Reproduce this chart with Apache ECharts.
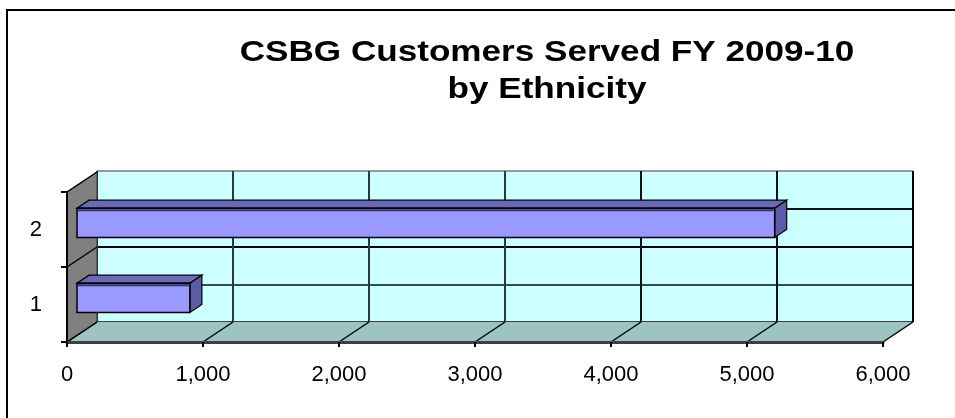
<!DOCTYPE html>
<html><head><meta charset="utf-8">
<script src="https://cdn.jsdelivr.net/npm/echarts@6/dist/echarts.min.js"></script>
<style>html,body{margin:0;padding:0;background:#fff}#c{width:955px;height:418px}</style>
</head><body><div id="c"></div>
<script>
// ---- data ----
const titleText = 'CSBG Customers Served FY 2009-10\nby Ethnicity';
const categories = ['1', '2'];
const values = [830, 5130];
const xTickLabels = ['0', '1,000', '2,000', '3,000', '4,000', '5,000', '6,000'];
const xMin = 0, xMax = 6000, xStep = 1000;
const xTickValues = [0, 1000, 2000, 3000, 4000, 5000, 6000];

// ---- 3D look (styling constants) ----
const DX = 30, DY = -20;           // depth offset of back wall
const BAR_FRONT = 10 / 30, BAR_BACK = 22 / 30, BAR_FRAC = 0.39;
const FONT = '"Liberation Sans", Arial, sans-serif';

const chart = echarts.init(document.getElementById('c'), null, {renderer: 'canvas'});

function frameItem(params, api) {
  const cs = params.coordSys;
  const left = cs.x, top = cs.y, bottom = cs.y + cs.height, right = cs.x + cs.width;
  const band = api.size([0, 1])[1];
  const kids = [];
  // floor
  kids.push({type: 'polygon', shape: {points: [[left, bottom], [right, bottom], [right + DX, bottom + DY], [left + DX, bottom + DY]]},
    style: {fill: '#9cc4c2', stroke: null}});
  xTickValues.forEach(v => {
    const x = api.coord([v, 0])[0];
    kids.push({type: 'line', shape: {x1: x, y1: bottom, x2: x + DX, y2: bottom + DY}, style: {stroke: '#000', lineWidth: 1.5}});
  });
  // side wall
  kids.push({type: 'polygon', shape: {points: [[left, top], [left + DX, top + DY], [left + DX, bottom + DY], [left, bottom]]},
    style: {fill: '#808080', stroke: '#333', lineWidth: 1}});
  const bounds = [];
  categories.forEach((c, i) => { const y = api.coord([0, i])[1]; bounds.push(y + band / 2, y - band / 2); });
  Array.from(new Set(bounds.map(b => Math.round(b * 10) / 10))).forEach(y => {
    kids.push({type: 'line', shape: {x1: left, y1: y, x2: left + DX, y2: y + DY}, style: {stroke: '#000', lineWidth: 1.5}});
  });
  return {type: 'group', children: kids};
}

function barItem(params, api) {
  const i = api.value(1);
  const s = api.coord([0, i]);
  const e = api.coord([api.value(0), i]);
  const band = api.size([0, 1])[1];
  const bh = band * BAR_FRAC;
  const fx = DX * BAR_FRONT, fy = DY * BAR_FRONT;
  const bdx = DX * (BAR_BACK - BAR_FRONT), bdy = DY * (BAR_BACK - BAR_FRONT);
  const x0 = s[0] + fx, x1 = e[0] + fx, yc = s[1] + fy;
  const yt = yc - bh / 2, yb = yc + bh / 2;
  return {type: 'group', children: [
    {type: 'polygon', shape: {points: [[x0, yt], [x1, yt], [x1 + bdx, yt + bdy], [x0 + bdx, yt + bdy]]},
      style: {fill: '#6a6ab8', stroke: '#000', lineWidth: 1.2}},
    {type: 'polygon', shape: {points: [[x1, yt], [x1 + bdx, yt + bdy], [x1 + bdx, yb + bdy], [x1, yb]]},
      style: {fill: '#5c5ca6', stroke: '#000', lineWidth: 1.2}},
    {type: 'rect', shape: {x: x0, y: yt, width: x1 - x0, height: bh},
      style: {fill: '#9999ff', stroke: '#000', lineWidth: 1.5}},
    {type: 'line', shape: {x1: x0 + 1, y1: yt + 2, x2: x1 - 1, y2: yt + 2}, style: {stroke: '#333366', lineWidth: 2}}
  ]};
}

const option = {
  backgroundColor: '#fff',
  animation: false,
  graphic: [
    {type: 'rect', z: -10, shape: {x: 7, y: 10, width: 960, height: 420}, style: {fill: 'none', stroke: '#000', lineWidth: 2}},
    {type: 'text', x: 547, y: 71, scaleX: 1.17, z: 10,
      style: {text: titleText, fill: '#000', fontSize: 30, fontWeight: 'bold', fontFamily: FONT,
        align: 'center', verticalAlign: 'middle', lineHeight: 36.5}}
  ],
  grid: [
    {left: 67, right: 72, top: 192, bottom: 76},
    {left: 97, right: 42, top: 171, bottom: 96, show: true, backgroundColor: '#ccffff', borderWidth: 0}
  ],
  xAxis: [
    {gridIndex: 0, type: 'value', min: xMin, max: xMax, interval: xStep, z: 10,
      axisLine: {show: true, onZero: false, lineStyle: {color: '#404040', width: 3}},
      axisTick: {show: true, length: 5, lineStyle: {color: '#000', width: 2}},
      axisLabel: {formatter: v => xTickLabels[Math.round((v - xMin) / xStep)], margin: 22, fontSize: 22, fontFamily: FONT, color: '#000'},
      splitLine: {show: false}},
    {gridIndex: 1, type: 'value', min: xMin, max: xMax, interval: xStep,
      axisLine: {show: false}, axisTick: {show: false}, axisLabel: {show: false},
      splitLine: {show: true, lineStyle: {color: ['#333', '#2a3a3a', '#2a3a3a', '#2a3a3a', '#111', '#111', '#000'], width: 2}}}
  ],
  yAxis: [
    {gridIndex: 0, type: 'category', data: categories, z: 10,
      axisLine: {show: true, lineStyle: {color: '#000', width: 2}},
      axisTick: {show: true, length: 6, lineStyle: {color: '#000', width: 2}},
      axisLabel: {margin: 25, fontSize: 22, fontFamily: FONT, color: '#000'}},
    {gridIndex: 1, type: 'value', min: 0, max: 2, interval: 0.5,
      axisLine: {show: false}, axisTick: {show: false}, axisLabel: {show: false},
      splitLine: {show: true, lineStyle: {color: ['#404040', '#2f4f4f', '#000', '#111', '#999'], width: 2}}}
  ],
  series: [
    {type: 'custom', name: 'frame', xAxisIndex: 0, yAxisIndex: 0, z: 1, silent: true,
      renderItem: frameItem, data: [[0, 0]]},
    {type: 'custom', name: 'Customers', xAxisIndex: 0, yAxisIndex: 0, z: 3,
      renderItem: barItem, data: values.map((v, i) => [v, i]), encode: {x: 0, y: 1}}
  ]
};
chart.setOption(option);
</script></body></html>
